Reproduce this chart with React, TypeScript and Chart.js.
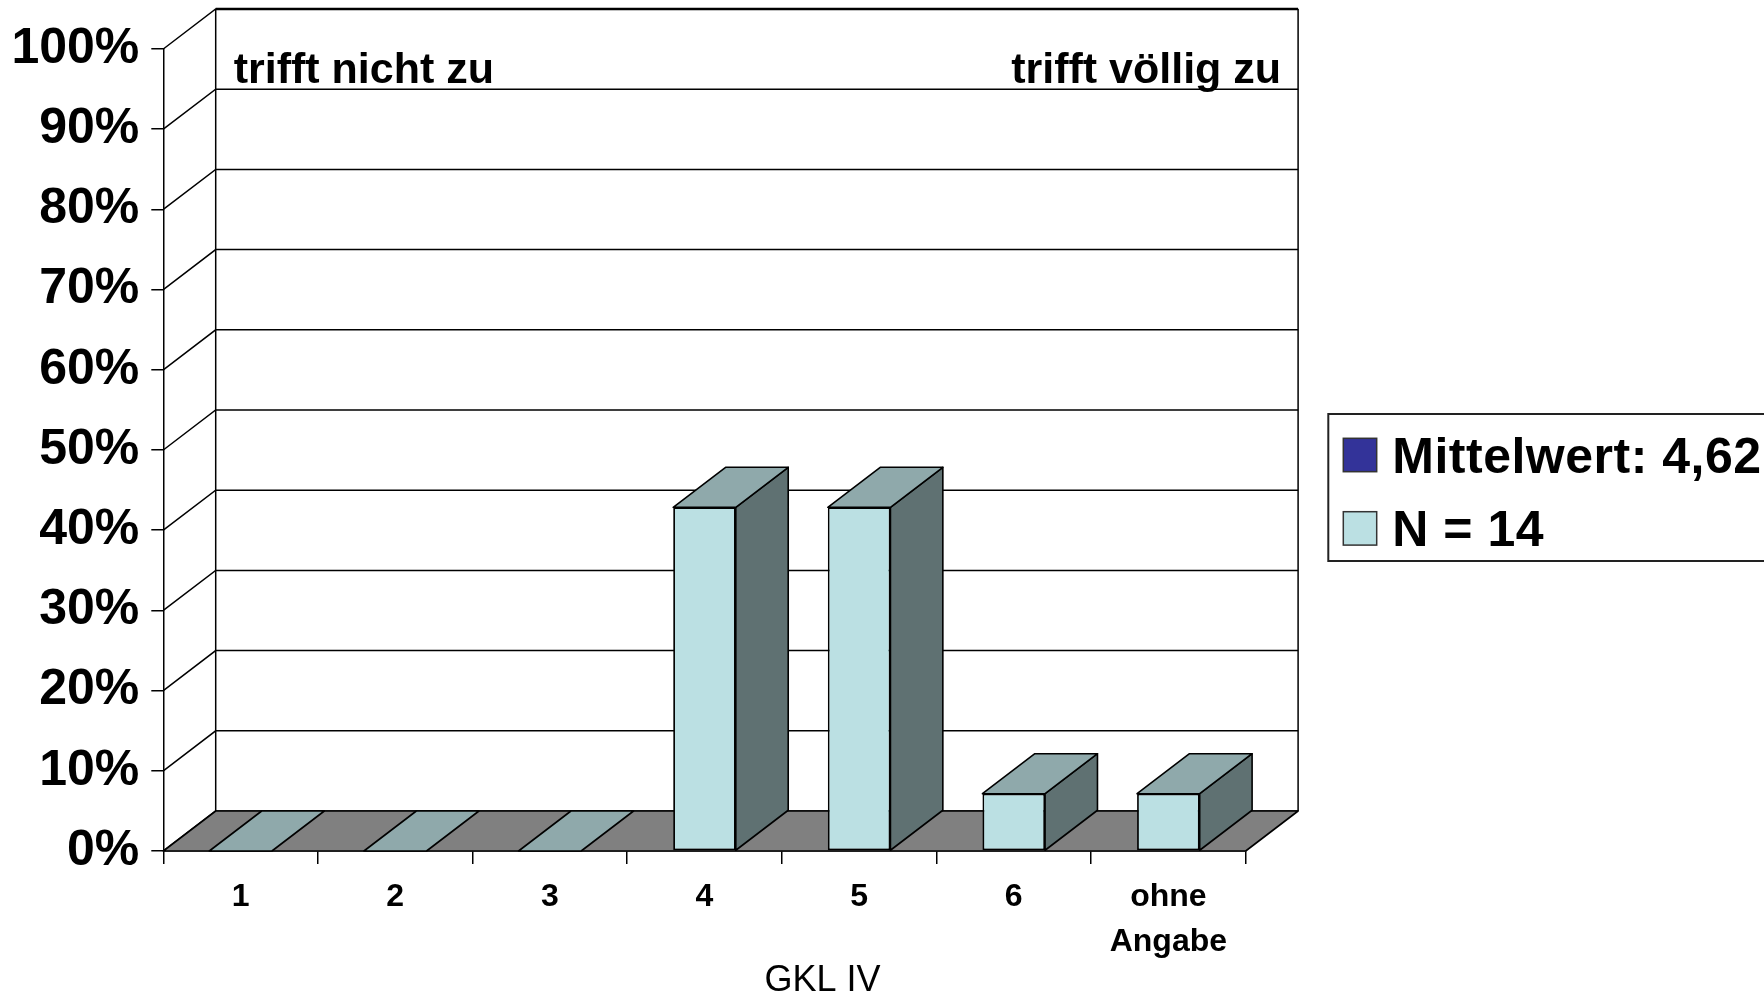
import React, { useEffect, useRef } from "react";
import { Chart, registerables } from "chart.js";

Chart.register(...registerables);

// ---- data ----
const categories: (string | string[])[] = ["1", "2", "3", "4", "5", "6", ["ohne", "Angabe"]];
const nValues: number[] = [0, 0, 0, 42.86, 42.86, 7.14, 7.14];
const meanValues: (number | null)[] = [null, null, null, null, null, null, null];
const seriesLabels: string[] = ["Mittelwert: 4,62", "N = 14"];
const yTicks: number[] = [0, 10, 20, 30, 40, 50, 60, 70, 80, 90, 100];
const axisTitle = "GKL IV";
const scaleLeftNote = "trifft nicht zu";
const scaleRightNote = "trifft völlig zu";

// ---- styles ----
const FONT = "'Liberation Sans', Arial, sans-serif";
const DX = 52.4;
const DY = -40;
const FRONT = "#BBE0E3";
const TOP = "#8FA9AB";
const SIDE = "#5F7172";
const FLOOR = "#808080";
const MEAN = "#333399";

function poly(ctx: CanvasRenderingContext2D, pts: number[][], fill: string, lw = 1.6) {
  ctx.beginPath();
  ctx.moveTo(pts[0][0], pts[0][1]);
  for (let i = 1; i < pts.length; i++) ctx.lineTo(pts[i][0], pts[i][1]);
  ctx.closePath();
  ctx.fillStyle = fill;
  ctx.fill();
  ctx.lineWidth = lw;
  ctx.strokeStyle = "#000";
  ctx.lineJoin = "round";
  ctx.stroke();
}

const depthPlugin = {
  id: "depth3d",
  beforeDatasetsDraw(chart: any) {
    const { ctx, chartArea: a } = chart;
    const y = chart.scales.y;
    ctx.save();
    ctx.strokeStyle = "#000";
    ctx.lineWidth = 1.5;
    yTicks.forEach((v) => {
      const yy = y.getPixelForValue(v);
      ctx.beginPath();
      ctx.moveTo(a.left, yy);
      ctx.lineTo(a.left + DX, yy + DY);
      ctx.lineTo(a.right + DX, yy + DY);
      ctx.stroke();
    });
    ctx.beginPath();
    ctx.moveTo(a.left + DX, a.top + DY);
    ctx.lineTo(a.left + DX, a.bottom + DY);
    ctx.moveTo(a.right + DX, a.top + DY);
    ctx.lineTo(a.right + DX, a.bottom + DY);
    ctx.stroke();
    ctx.lineWidth = 2.5;
    ctx.beginPath();
    ctx.moveTo(a.left + DX, a.top + DY);
    ctx.lineTo(a.right + DX, a.top + DY);
    ctx.stroke();
    poly(ctx, [
      [a.left, a.bottom],
      [a.right, a.bottom],
      [a.right + DX, a.bottom + DY],
      [a.left + DX, a.bottom + DY],
    ], FLOOR, 1.6);
    ctx.restore();
  },
  afterDatasetsDraw(chart: any) {
    const { ctx } = chart;
    const meta = chart.getDatasetMeta(1);
    ctx.save();
    meta.data.forEach((bar: any) => {
      const { x, y, base, width } = bar.getProps(["x", "y", "base", "width"], true);
      const l = x - width / 2;
      const r = x + width / 2;
      if (base - y > 0.5) {
        poly(ctx, [[r, y], [r + DX, y + DY], [r + DX, base + DY], [r, base]], SIDE);
      }
      poly(ctx, [[l, y], [r, y], [r + DX, y + DY], [l + DX, y + DY]], TOP);
    });
    ctx.restore();
  },
  afterDraw(chart: any) {
    const { ctx, chartArea: a } = chart;
    ctx.save();
    ctx.fillStyle = "#000";
    ctx.font = `bold 43px ${FONT}`;
    ctx.textBaseline = "alphabetic";
    ctx.textAlign = "left";
    ctx.fillText(scaleLeftNote, a.left + DX + 18, 83);
    ctx.textAlign = "right";
    ctx.fillText(scaleRightNote, a.right + DX - 17, 83);
    ctx.font = `36px ${FONT}`;
    ctx.textAlign = "center";
    ctx.fillText(axisTitle, a.left + 0.609 * (a.right - a.left), 991);
    const lx = 1328.3;
    const ly = 414;
    ctx.strokeStyle = "#222";
    ctx.lineWidth = 2;
    ctx.strokeRect(lx, ly, 600, 147);
    chart.data.datasets.forEach((ds: any, i: number) => {
      const sy = 438.3 + i * 73.4;
      ctx.fillStyle = ds.backgroundColor;
      ctx.fillRect(lx + 15, sy, 33.4, 33.4);
      ctx.strokeStyle = "#333";
      ctx.lineWidth = 1.5;
      ctx.strokeRect(lx + 15, sy, 33.4, 33.4);
      ctx.fillStyle = "#000";
      ctx.font = `bold 50px ${FONT}`;
      ctx.textAlign = "left";
      ctx.textBaseline = "middle";
      (ctx as any).letterSpacing = "0.5px";
      ctx.fillText(ds.label, lx + 64, sy + 21);
      (ctx as any).letterSpacing = "0px";
    });
    ctx.restore();
  },
};

export default function App() {
  const ref = useRef<HTMLCanvasElement | null>(null);
  useEffect(() => {
    if (!ref.current) return;
    const chart = new Chart(ref.current, {
      type: "bar",
      data: {
        labels: categories as any,
        datasets: [
          {
            label: seriesLabels[0],
            data: meanValues as any,
            backgroundColor: MEAN,
            grouped: false,
          } as any,
          {
            label: seriesLabels[1],
            data: nValues,
            backgroundColor: FRONT,
            borderColor: "#000",
            borderWidth: 1.8,
            borderSkipped: false,
            categoryPercentage: 1,
            barPercentage: 0.405,
            grouped: false,
          } as any,
        ],
      },
      options: {
        responsive: false,
        animation: false,
        events: [],
        layout: { padding: { left: 0, top: 49, right: 518.3, bottom: 0 } },
        plugins: {
          legend: { display: false },
          tooltip: { enabled: false },
          title: { display: false },
        },
        scales: {
          x: {
            offset: true,
            afterFit: (s: any) => { s.height = 144; },
            grid: {
              display: true,
              offset: true,
              drawOnChartArea: false,
              drawTicks: true,
              tickLength: 13,
              color: "#000",
              lineWidth: 1.5,
            },
            border: { display: true, color: "#000", width: 1.5 },
            ticks: {
              color: "#000",
              padding: 11,
              maxRotation: 0,
              autoSkip: false,
              font: { family: FONT, size: 32, weight: "bold", lineHeight: 1.4 },
            },
          },
          y: {
            min: 0,
            max: 100,
            afterFit: (s: any) => { s.width = 163.3; },
            afterBuildTicks: (s: any) => { s.ticks = yTicks.map((v) => ({ value: v })); },
            grid: {
              display: true,
              drawOnChartArea: false,
              drawTicks: true,
              tickLength: 12,
              color: "#000",
              lineWidth: 1.5,
            },
            border: { display: true, color: "#000", width: 1.5 },
            ticks: {
              color: "#000",
              padding: 12,
              callback: (v: any) => `${v}%`,
              font: { family: FONT, size: 50, weight: "bold" },
            },
          },
        },
      },
      plugins: [depthPlugin],
    });
    return () => chart.destroy();
  }, []);
  return (
    <div style={{ position: "absolute", left: 0, top: 0, width: 1764, height: 995 }}>
      <canvas ref={ref} width={1764} height={995} style={{ display: "block" }} />
    </div>
  );
}
